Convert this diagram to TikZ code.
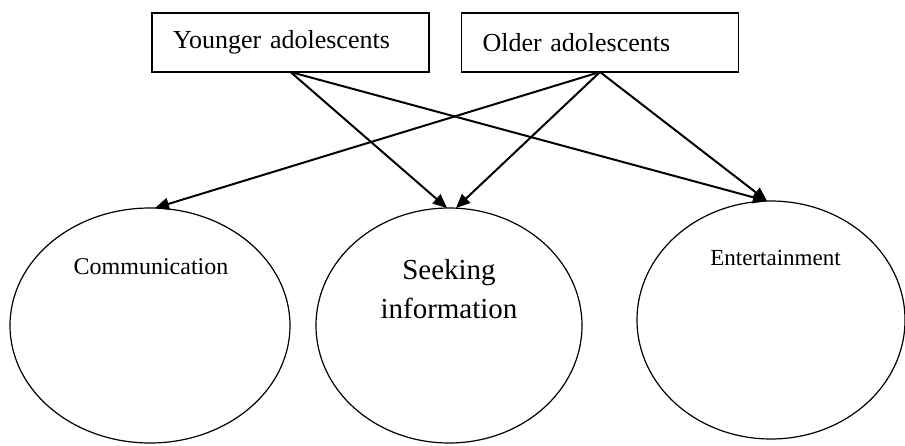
\documentclass[tikz,border=0pt]{standalone}
\usepackage{fontspec}
\setmainfont{Liberation Serif}
\usetikzlibrary{shapes.geometric,arrows.meta}

\begin{document}
\begin{tikzpicture}[x=0.5pt,y=-0.5pt]
\tikzset{group/.style={draw,line width=0.8pt,minimum width=138.5pt,minimum height=29.5pt,
   text width=117.5pt,inner xsep=10.5pt,inner ysep=0pt,outer sep=0pt,align=left,
   font=\fontsize{13}{15}\selectfont},
 use/.style={draw,ellipse,line width=0.6pt,inner sep=0pt,outer sep=0pt},
 arr/.style={-{Triangle[length=7pt,width=6pt]},line width=1pt}}
\useasboundingbox (0,0) rectangle (905,445);
\node [group] (young) at (290.5,42.5) {Younger adolescents};
\node [group] (old) at (600,42.5) {Older adolescents};
\node [use,minimum width=140pt,minimum height=117.5pt] (comm) at (150,325.5) {};
\node [use,minimum width=133pt,minimum height=117.5pt] (seek) at (449,325.5) {};
\node [use,minimum width=134pt,minimum height=119pt] (ent) at (771,320) {};
\node [font=\fontsize{12}{14}\selectfont] (commtext) at (151,267) {Communication};
\node [align=center,font=\fontsize{14.5}{19.5}\selectfont] (seektext) at (449,289) {Seeking\\information};
\node [font=\fontsize{11.5}{13}\selectfont] (enttext) at (775.5,258) {Entertainment};
\draw [arr] (young.south) -- ([xshift=-1pt]seek.north);
\draw [arr] (young.south) -- ([xshift=-2pt]ent.north);
\draw [arr] (old.south) -- ([xshift=2.5pt]comm.north);
\draw [arr] (old.south) -- ([xshift=3.5pt]seek.north);
\draw [arr] (old.south) -- ([xshift=-2pt]ent.north);
\end{tikzpicture}
\end{document}
